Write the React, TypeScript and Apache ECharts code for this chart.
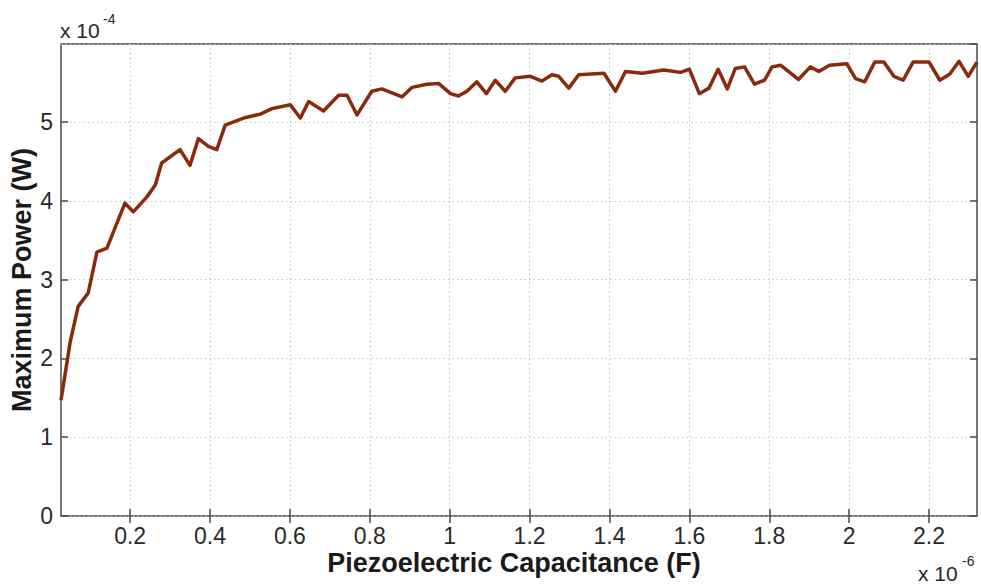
import React, { useEffect, useRef } from 'react';
import * as echarts from 'echarts';

// Piezoelectric capacitance (x 1e-6 F)
const capacitance = [
  0.027, 0.050, 0.070, 0.095, 0.117, 0.142, 0.187, 0.208, 0.242, 0.263,
  0.279, 0.325, 0.350, 0.371, 0.396, 0.417, 0.438, 0.484, 0.526, 0.555,
  0.601, 0.626, 0.647, 0.684, 0.722, 0.743, 0.768, 0.805, 0.830, 0.881,
  0.906, 0.943, 0.972, 1.002, 1.022, 1.043, 1.068, 1.092, 1.114, 1.139,
  1.164, 1.202, 1.231, 1.256, 1.273, 1.298, 1.323, 1.386, 1.415, 1.440,
  1.482, 1.536, 1.578, 1.600, 1.625, 1.649, 1.672, 1.695, 1.715, 1.738,
  1.763, 1.788, 1.807, 1.829, 1.873, 1.903, 1.924, 1.951, 1.994, 2.016,
  2.039, 2.064, 2.087, 2.112, 2.135, 2.160, 2.200, 2.227, 2.252, 2.275,
  2.298, 2.320,
];
// Maximum power (x 1e-4 W)
const power = [
  1.47, 2.21, 2.66, 2.83, 3.35, 3.40, 3.97, 3.86, 4.05, 4.20,
  4.48, 4.65, 4.45, 4.79, 4.69, 4.65, 4.96, 5.05, 5.10, 5.17,
  5.22, 5.05, 5.26, 5.14, 5.34, 5.34, 5.09, 5.39, 5.42, 5.32,
  5.44, 5.48, 5.49, 5.36, 5.33, 5.39, 5.51, 5.36, 5.53, 5.39,
  5.56, 5.58, 5.52, 5.60, 5.58, 5.43, 5.60, 5.62, 5.39, 5.64,
  5.62, 5.66, 5.63, 5.67, 5.36, 5.43, 5.67, 5.42, 5.68, 5.70,
  5.48, 5.53, 5.70, 5.72, 5.54, 5.70, 5.64, 5.72, 5.74, 5.55,
  5.51, 5.76, 5.76, 5.58, 5.53, 5.76, 5.76, 5.53, 5.61, 5.77,
  5.58, 5.76,
];
const xTickValues = [0.2, 0.4, 0.6, 0.8, 1, 1.2, 1.4, 1.6, 1.8, 2, 2.2];
const xMin = 0.027;
const xMax = 2.32;
const yMin = 0;
const yMax = 5.99;
const yInterval = 1;

export default function App() {
  const ref = useRef<HTMLDivElement>(null);
  useEffect(() => {
    const chart = echarts.init(ref.current!, null, { renderer: 'svg' });
    const font = '"Liberation Sans", Arial, sans-serif';
    const axisColor = '#4a4a4a';
    const gridLine = { show: true, lineStyle: { color: '#c4c4c4', type: [1.5, 3], width: 1 } };
    const tick = { show: true, inside: true, length: 7, lineStyle: { color: axisColor, width: 1.5 } };
    const fmt = (v: number) => String(Math.round(v * 10) / 10);
    chart.setOption({
      animation: false,
      backgroundColor: '#ffffff',
      grid: {
        left: 61, right: 4, top: 44, bottom: 69,
        show: true, borderColor: axisColor, borderWidth: 1.5, backgroundColor: 'transparent',
      },
      xAxis: [
        {
          type: 'value', min: xMin, max: xMax, position: 'bottom',
          axisLine: { show: false },
          axisTick: { ...tick, customValues: xTickValues },
          axisLabel: {
            customValues: xTickValues, formatter: fmt, fontSize: 23, lineHeight: 18,
            color: '#2a2a2a', fontFamily: font, margin: 11,
          },
          splitLine: gridLine,
        },
        {
          type: 'value', min: xMin, max: xMax, position: 'top',
          axisLine: { show: false },
          axisTick: { ...tick, customValues: xTickValues },
          axisLabel: { show: false },
          splitLine: { show: false },
        },
      ],
      yAxis: [
        {
          type: 'value', min: yMin, max: yMax, interval: yInterval, position: 'left',
          axisLine: { show: false },
          axisTick: tick,
          axisLabel: { fontSize: 23, color: '#2a2a2a', fontFamily: font, margin: 8, showMaxLabel: false },
          splitLine: gridLine,
        },
        {
          type: 'value', min: yMin, max: yMax, interval: yInterval, position: 'right',
          axisLine: { show: false },
          axisTick: tick,
          axisLabel: { show: false },
          splitLine: { show: false },
        },
      ],
      series: [
        {
          type: 'line',
          xAxisIndex: 0,
          yAxisIndex: 0,
          data: capacitance.map((c, i) => [c, power[i]]),
          showSymbol: false,
          lineStyle: { color: '#8a2a0c', width: 3.5, join: 'round' },
        },
      ],
      graphic: [
        { type: 'text', x: 60, y: 30, style: { text: 'x 10', font: `21px ${font}`, fill: '#262626', textVerticalAlign: 'middle' } },
        { type: 'text', x: 103, y: 19, style: { text: '-4', font: `14px ${font}`, fill: '#262626', textVerticalAlign: 'middle' } },
        {
          type: 'text', x: 918, y: 573,
          style: { text: 'x 10', font: `21px ${font}`, lineHeight: 18, fill: '#262626', textVerticalAlign: 'middle' },
        },
        { type: 'text', x: 962, y: 561, style: { text: '-6', font: `14px ${font}`, fill: '#262626', textVerticalAlign: 'middle' } },
        {
          type: 'text', x: 22, y: 280, rotation: Math.PI / 2,
          style: { text: 'Maximum Power (W)', font: `bold 27px ${font}`, fill: '#1a1a1a', textAlign: 'center', textVerticalAlign: 'middle' },
        },
        {
          type: 'text', x: 514, y: 563,
          style: {
            text: 'Piezoelectric Capacitance (F)', font: `bold 27px ${font}`, lineHeight: 22,
            fill: '#1a1a1a', textAlign: 'center', textVerticalAlign: 'middle',
          },
        },
      ],
    });
    return () => chart.dispose();
  }, []);
  return (
    <div
      ref={ref}
      style={{ position: 'fixed', left: 0, top: 0, width: 981, height: 585, background: '#fff' }}
    />
  );
}
